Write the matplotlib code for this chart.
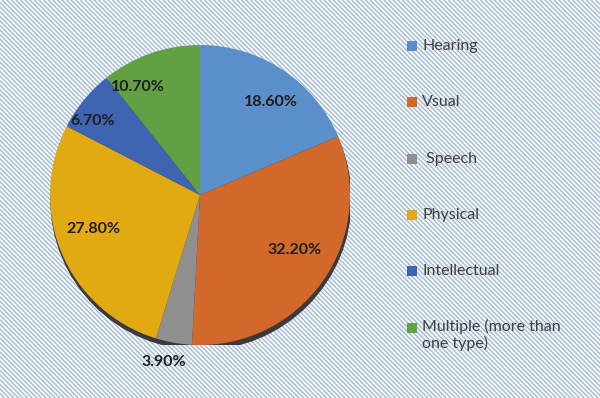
import numpy as np
import matplotlib
matplotlib.use("Agg")
import matplotlib.pyplot as plt
from matplotlib.patches import Rectangle, Circle
from matplotlib.collections import LineCollection

categories = ["Hearing", "Vsual", " Speech", "Physical", "Intellectual",
              "Multiple (more than\none type)"]
shares = [18.6, 32.2, 3.9, 27.8, 6.7, 10.7]
colors = ["#5B8FC9", "#D2692B", "#8F8F8F", "#E2AA12", "#3F65B2", "#63A044"]

# label placement (radius as fraction, angle tweak in degrees)
lab_r = [0.78, 0.73, 1.14, 0.75, 0.87, 0.83]
lab_da = [-3.5, 5.0, -2.0, -5.0, 4.7, 10.4]

plt.rcParams['font.family'] = ['Lato', 'DejaVu Sans']

fig = plt.figure(figsize=(6, 3.98), dpi=100)

# striped background, drawn in pixel units
bg = fig.add_axes([0, 0, 1, 1], zorder=-1)
bg.set_xlim(0, 600)
bg.set_ylim(0, 398)
bg.add_patch(Rectangle((0, 0), 600, 398, facecolor='#F3F7FA', lw=0))
offs = np.arange(0, 1000, 4.6)
segs = [[(c - 400, 400), (c, 0)] for c in offs]
bg.add_collection(LineCollection(segs, colors='#A2B9D0', linewidths=0.9))
bg.set_axis_off()

ax = fig.add_axes([50 / 600, 53 / 398, 300 / 600, 300 / 398])
ax.add_patch(Circle((0.006, -0.03), 1.0, color='#3A3A3A', zorder=0))
wedges, _ = ax.pie(shares, colors=colors, startangle=90, counterclock=False,
                   radius=1.0, wedgeprops=dict(linewidth=0))
for w, v, r, da in zip(wedges, shares, lab_r, lab_da):
    ang = np.deg2rad((w.theta1 + w.theta2) / 2 + da)
    ax.text(r * np.cos(ang), r * np.sin(ang), "%.2f%%" % v, ha='center',
            va='center', fontsize=11.5, fontweight='bold', color='#1E1E1E')
ax.set_xlim(-1, 1)
ax.set_ylim(-1, 1)
ax.set_aspect('equal')
ax.set_axis_off()

# legend
ys = [46, 102, 159, 215, 271, 328]
for c, lab, y in zip(colors, categories, ys):
    fig.patches.append(Rectangle((407 / 600, 1 - (y + 5) / 398), 10 / 600, 10 / 398,
                                 facecolor=c, edgecolor='none',
                                 transform=fig.transFigure, figure=fig))
    fig.text(422 / 600, 1 - y / 398, lab, ha='left', va='top' if '\n' in lab else 'center',
             fontsize=11.5, color='#404040', linespacing=1.15)

fig.texts[-1].set_y(1 - (y - 9) / 398)

plt.savefig("out.png", dpi=100)
